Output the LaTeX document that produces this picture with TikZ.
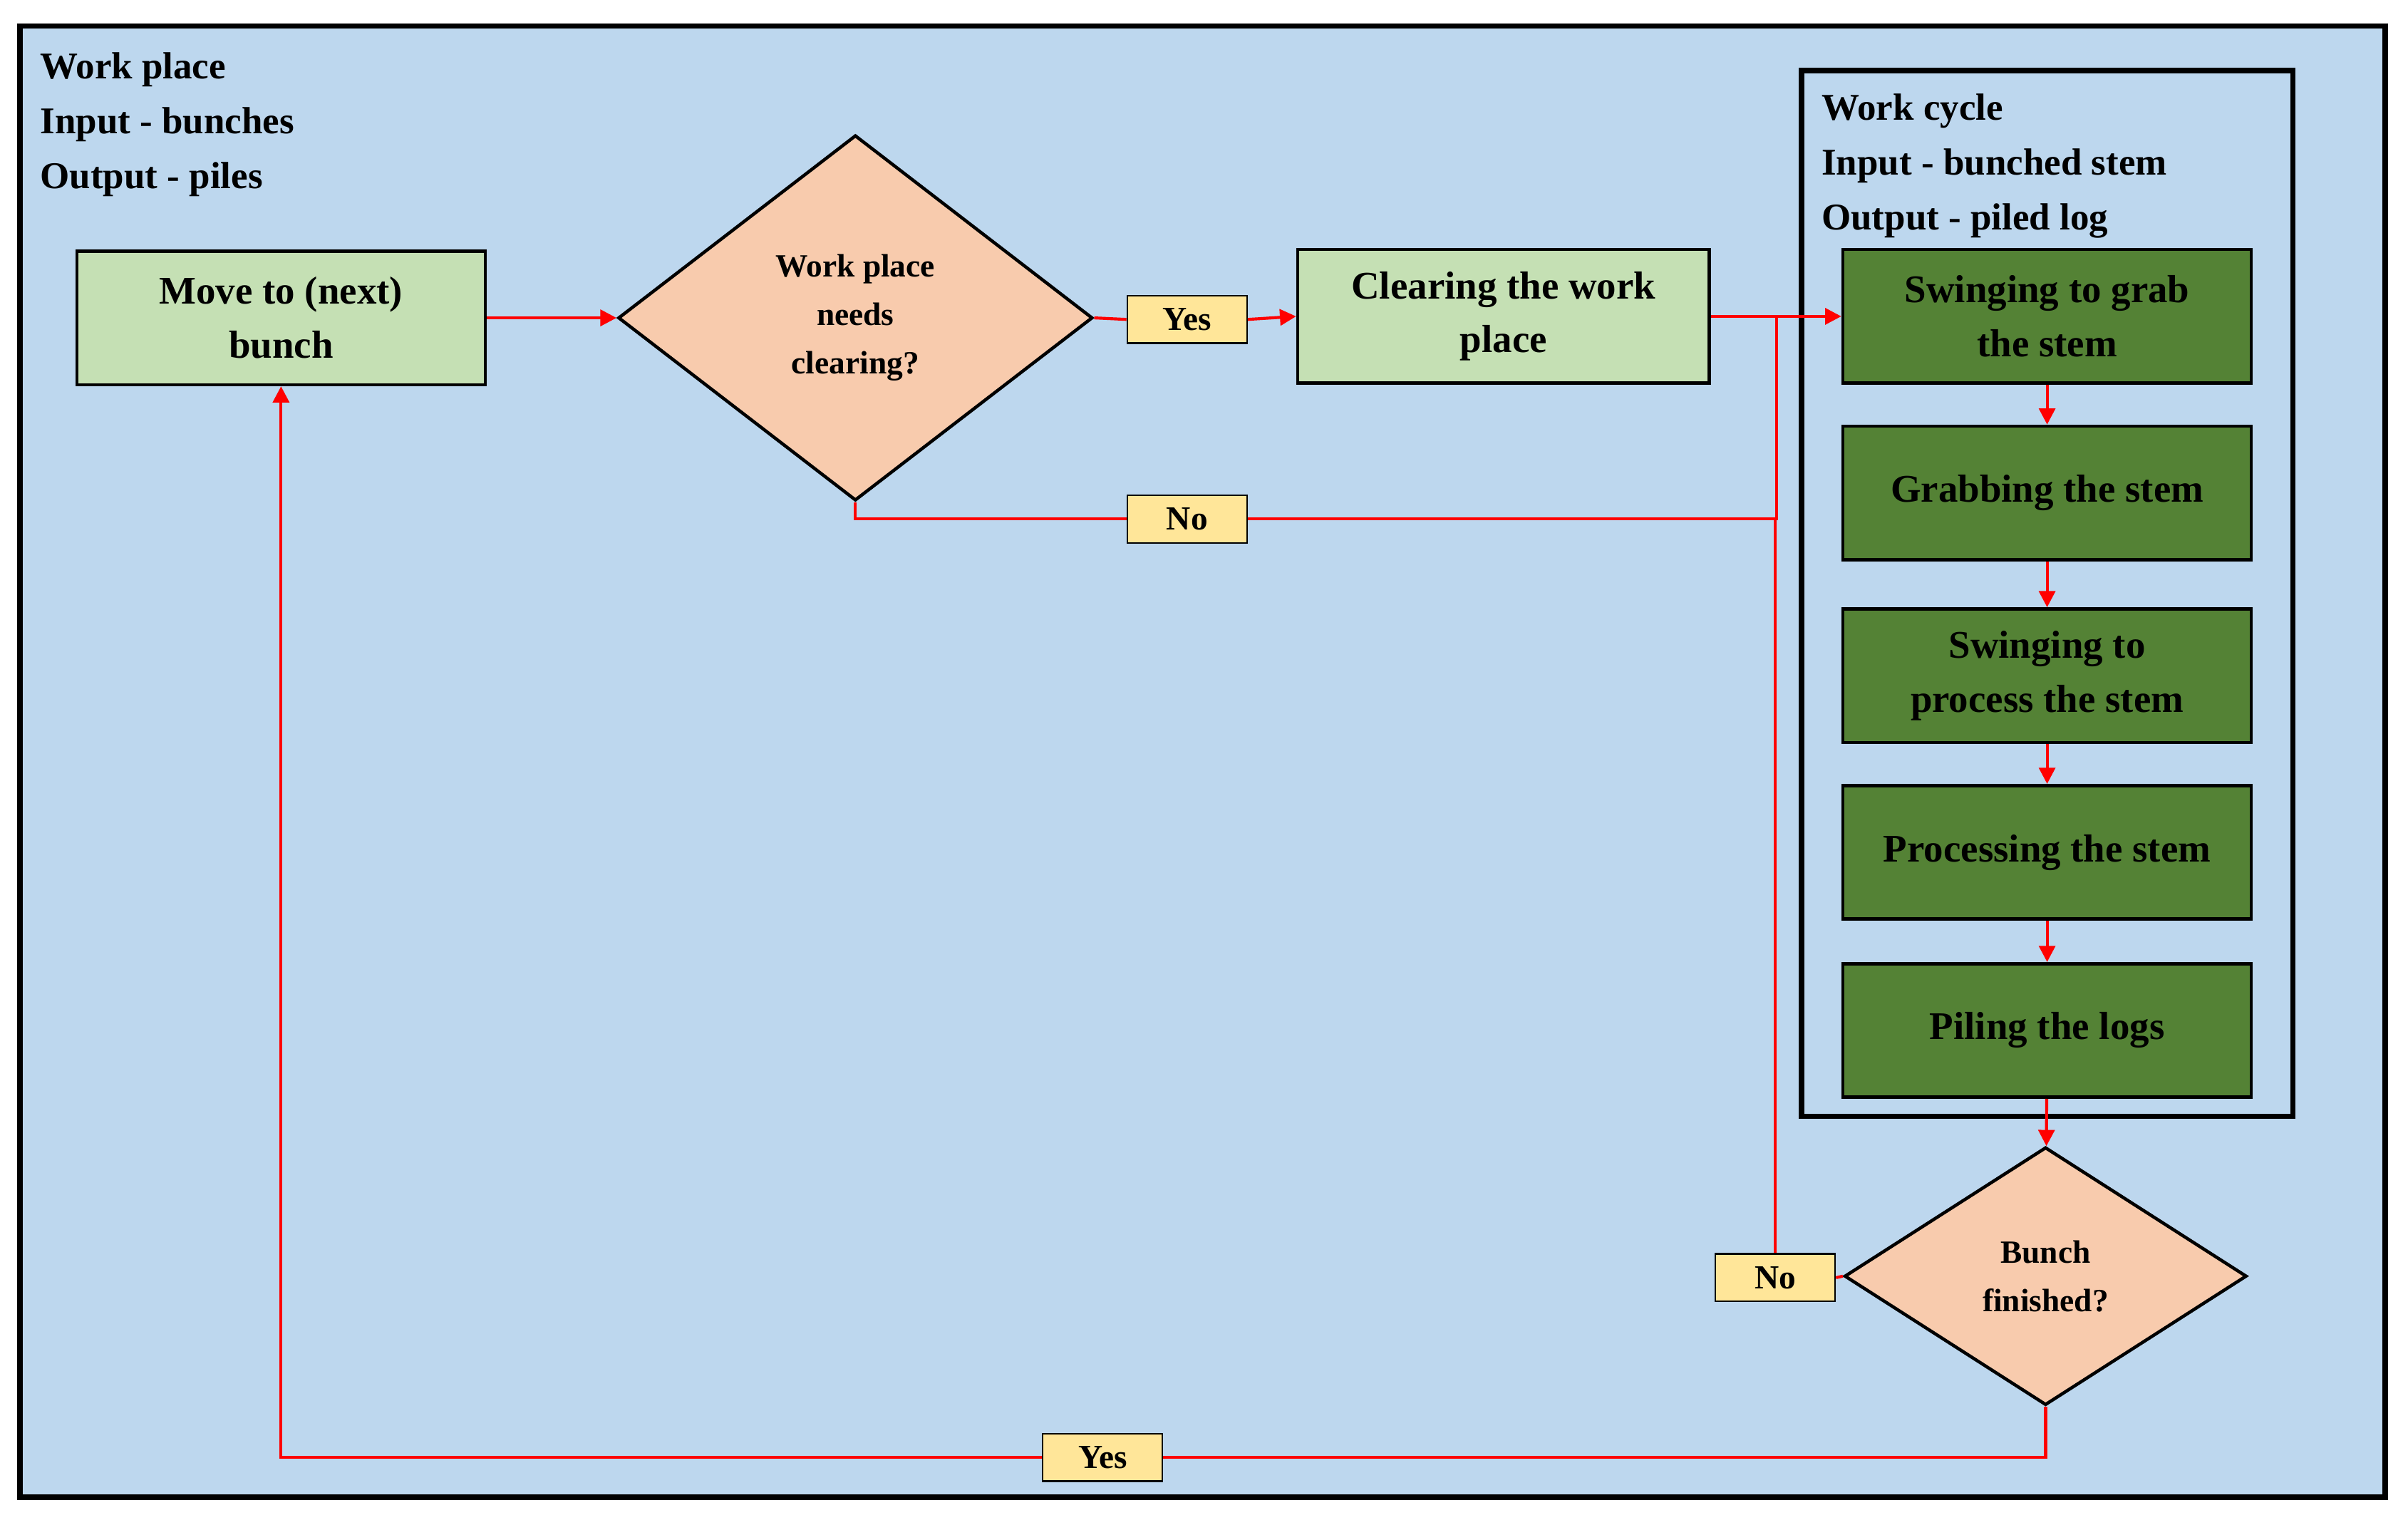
\documentclass[tikz,border=0pt]{standalone}
\usepackage{fontspec}
\setmainfont{Liberation Serif}
\usetikzlibrary{shapes.geometric,arrows.meta}
\definecolor{bg}{HTML}{BDD7EE}
\definecolor{lg}{HTML}{C5E0B4}
\definecolor{dg}{HTML}{548235}
\definecolor{pe}{HTML}{F8CBAD}
\definecolor{ye}{HTML}{FFE699}
\begin{document}
\begin{tikzpicture}[x=0.02cm,y=-0.02cm,
 box/.style={draw=black,line width=1.2pt,fill=lg,minimum width=5.32cm,minimum height=1.74cm,align=center,font=\fontsize{14.5}{20}\selectfont\bfseries},
 gbox/.style={box,fill=dg},
 dia/.style={draw=black,line width=1.2pt,fill=pe,diamond,align=center,inner sep=0pt,font=\fontsize{12}{18}\selectfont\bfseries},
 lab/.style={draw=black,line width=0.6pt,fill=ye,minimum width=1.56cm,minimum height=0.62cm,inner sep=0pt,font=\fontsize{12.5}{14}\selectfont\bfseries},
 hd/.style={anchor=west,align=left,font=\fontsize{14}{20.4}\selectfont\bfseries},
 ln/.style={red,line width=1.1pt},
 ar/.style={ln,-{Triangle[length=6pt,width=6pt]}}]
\useasboundingbox (0,0) rectangle (1568,993);
\fill[white] (0,0) rectangle (1568,993);
\draw[line width=2pt,fill=bg] (13,17) rectangle (1553,975);
\draw[line width=2pt] (1173,46) rectangle (1493,727);
\node[hd] (h1) at (20,81) {Work place\\Input - bunches\\Output - piles};
\node[hd] (h2) at (1180,108) {Work cycle\\Input - bunched stem\\Output - piled log};
\node[box] (move) at (183,207) {Move to (next)\\bunch};
\node[dia,minimum width=6.18cm,minimum height=4.76cm] (d1) at (557,207) {Work place\\needs\\clearing?};
\node[box,minimum width=5.36cm] (clear) at (979,206) {Clearing the work\\place};
\node[gbox] (g1) at (1333,206) {Swinging to grab\\the stem};
\node[gbox] (g2) at (1333,321) {Grabbing the stem};
\node[gbox] (g3) at (1333,440) {Swinging to\\process the stem};
\node[gbox] (g4) at (1333,555) {Processing the stem};
\node[gbox] (g5) at (1333,671) {Piling the logs};
\node[dia,minimum width=5.24cm,minimum height=3.36cm] (d2) at (1332,831) {Bunch\\finished?};
\node[lab] (yes1) at (773,208) {Yes};
\node[lab] (no1) at (773,338) {No};
\node[lab] (no2) at (1156,832) {No};
\node[lab] (yes2) at (718,949) {Yes};
\coordinate (j) at (1157,206);
\draw[ar] (move.east) -- (d1.west);
\draw[ln] (d1.east) -- (yes1.west);
\draw[ar] (yes1.east) -- (clear.west);
\draw[ar] (clear.east) -- (g1.west);
\draw[ln] (d1.south) |- (no1.west);
\draw[ln] (no1.east) -- (j |- no1.east) -- (j);
\draw[ar] (g1) -- (g2);
\draw[ar] (g2) -- (g3);
\draw[ar] (g3) -- (g4);
\draw[ar] (g4) -- (g5);
\draw[ar] (g5) -- (d2);
\draw[ln] (d2.west) -- (no2.east);
\draw[ln] (no2.north) -- (no2.north |- no1.east);
\draw[ln] (d2.south) |- (yes2.east);
\draw[ar] (yes2.west) -| (move.south);
\end{tikzpicture}
\end{document}
